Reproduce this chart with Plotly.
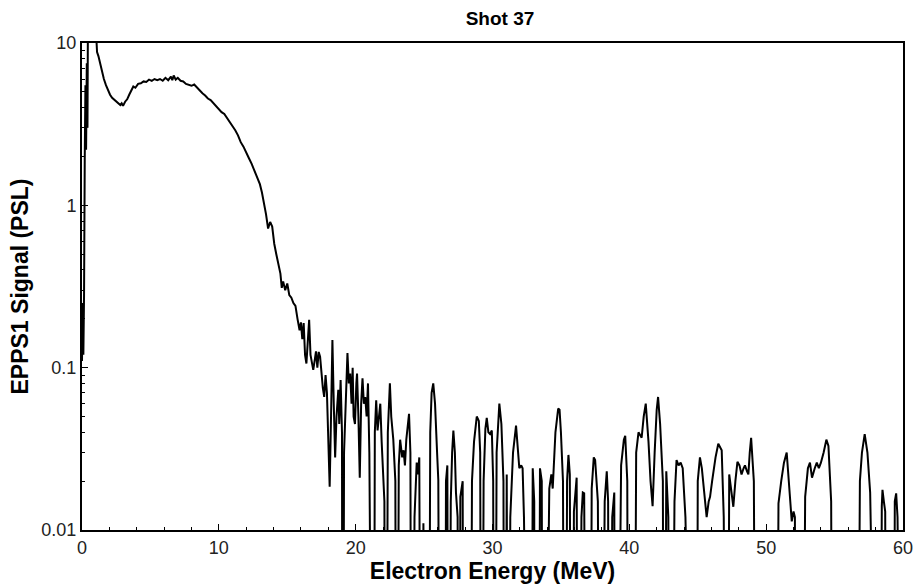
import plotly.graph_objects as go

# Electron energy (MeV) and EPPS1 signal (PSL); 1e-5 marks zero signal (below axis)
energy = [
    0, 0.05, 0.1, 0.15, 0.2, 0.25, 0.3, 0.35, 0.4, 0.45, 0.7, 0.95, 1.02, 1.1, 1.2, 1.3, 1.45, 1.6, 1.75, 1.9,
    2.05, 2.2, 2.4, 2.6, 2.8, 2.9, 3.0, 3.15, 3.3, 3.45, 3.6, 3.75, 3.9, 4.1, 4.3, 4.5, 4.7, 4.9, 5.1, 5.3,
    5.5, 5.7, 5.9, 6.1, 6.3, 6.5, 6.6, 6.7, 6.85, 7.0, 7.2, 7.4, 7.6, 7.8, 8.0, 8.2, 8.4, 8.6, 8.8, 9.0,
    9.2, 9.4, 9.6, 9.8, 10.0, 10.2, 10.4, 10.6, 10.8, 11.0, 11.2, 11.4, 11.6, 11.8, 12.0, 12.2, 12.4, 12.6, 12.8, 13.0,
    13.15, 13.3, 13.45, 13.6, 13.75, 13.9, 14.05, 14.2, 14.35, 14.5, 14.6, 14.7, 14.85, 15.0, 15.15, 15.3, 15.45, 15.6, 15.75, 15.9,
    16.0, 16.1, 16.2, 16.3, 16.4, 16.5, 16.6, 16.7, 16.8, 16.9, 17.0, 17.1, 17.2, 17.3, 17.4, 17.5, 17.6, 17.7, 17.8, 17.9,
    18.0, 18.1, 18.2, 18.3, 18.4, 18.5, 18.6, 18.73, 18.8, 18.9, 19.0, 19.05, 19.15, 19.25, 19.4, 19.5, 19.6, 19.7, 19.78, 19.85,
    19.95, 20.05, 20.1, 20.2, 20.3, 20.4, 20.5, 20.6, 20.7, 20.8, 20.9, 21.0, 21.05, 21.3, 21.4, 21.5, 21.6, 21.7, 21.8, 21.9,
    22.0, 22.1, 22.2, 22.35, 22.5, 22.6, 22.75, 22.9, 23.0, 23.15, 23.25, 23.4, 23.5, 23.6, 23.7, 23.8, 23.9, 24.0, 24.1, 24.3,
    24.46, 24.55, 24.65, 24.8, 24.95, 25.05, 25.3, 25.45, 25.55, 25.67, 25.8, 25.95, 26.04, 26.2, 26.5, 26.6, 26.7, 26.8, 26.95, 27.05,
    27.14, 27.25, 27.33, 27.45, 27.55, 27.65, 27.82, 27.9, 28.35, 28.5, 28.65, 28.85, 29.0, 29.1, 29.2, 29.35, 29.48, 29.58, 29.7, 29.82,
    29.95, 30.05, 30.15, 30.3, 30.5, 30.65, 30.8, 30.9, 31.04, 31.15, 31.3, 31.5, 31.72, 31.85, 31.96, 32.1, 32.2, 32.3, 32.4, 32.8,
    32.94, 33.05, 33.1, 33.35, 33.47, 33.6, 33.7, 34.15, 34.3, 34.4, 34.6, 34.8, 34.9, 35.0, 35.15, 35.3, 35.45, 35.55, 35.65, 35.8,
    35.95, 36.15, 36.3, 36.5, 36.6, 36.7, 36.9, 37.1, 37.25, 37.4, 37.5, 37.7, 37.9, 38.2, 38.35, 38.45, 38.55, 38.75, 38.9, 39.0,
    39.4, 39.6, 39.7, 39.85, 39.95, 40.3, 40.5, 40.67, 40.9, 41.05, 41.2, 41.4, 41.55, 41.7, 41.85, 42.0, 42.1, 42.25, 42.45, 42.55,
    42.7, 42.85, 43.0, 43.3, 43.45, 43.6, 43.75, 43.9, 44.1, 44.3, 44.9, 45.0, 45.16, 45.3, 45.5, 45.65, 45.8, 45.9, 46.05, 46.3,
    46.5, 46.75, 46.9, 47.0, 47.15, 47.3, 47.45, 47.6, 47.75, 47.9, 48.05, 48.2, 48.35, 48.45, 48.6, 48.7, 48.8, 48.9, 49.1, 49.3,
    50.7, 50.9, 51.1, 51.3, 51.5, 51.7, 51.87, 52.0, 52.1, 52.2, 52.6, 52.85, 53.05, 53.2, 53.35, 53.55, 53.7, 53.85, 54.0, 54.2,
    54.4, 54.55, 54.75, 54.9, 56.6, 56.85, 57.0, 57.2, 57.4, 57.6, 57.8, 58.3, 58.45, 58.5, 58.6, 58.7, 58.8, 59.3, 59.4, 59.5,
    59.6, 59.7, 60.0,
]
signal = [
    0.11, 0.25, 0.12, 0.28, 1.9, 5.5, 2.2, 7.5, 3.0, 30, 40, 15, 10, 8.8, 8.3, 7.7, 6.6, 6.0, 5.5, 5.1,
    4.8, 4.6, 4.45, 4.3, 4.15, 4.25, 4.1, 4.35, 4.5, 4.8, 5.1, 5.4, 5.3, 5.6, 5.65, 5.8, 5.75, 5.95, 5.85, 6.0,
    5.9, 6.0, 5.85, 6.1, 5.9, 6.2, 5.9, 6.3, 5.95, 6.1, 5.85, 5.8, 5.6, 5.55, 5.45, 5.55, 5.3, 5.1, 4.9, 4.75,
    4.55, 4.45, 4.25, 4.05, 3.9, 3.75, 3.65, 3.45, 3.3, 3.1, 2.9, 2.7, 2.45, 2.3, 2.1, 1.95, 1.8, 1.62, 1.48, 1.35,
    1.2, 1.05, 0.88, 0.72, 0.79, 0.74, 0.58, 0.5, 0.44, 0.38, 0.31, 0.34, 0.3, 0.33, 0.28, 0.27, 0.25, 0.24, 0.2, 0.17,
    0.19, 0.15, 0.188, 0.12, 0.106, 0.15, 0.197, 0.12, 0.105, 0.097, 0.11, 0.126, 0.1, 0.125, 0.117, 0.09, 0.075, 0.066, 0.09, 0.07,
    0.04, 0.0185, 0.05, 0.148, 0.06, 0.028, 0.05, 0.073, 0.045, 0.084, 0.04, 1e-5, 0.03, 0.06, 0.123, 0.08, 0.092, 0.06, 0.10, 0.05,
    0.045, 0.08, 0.092, 0.05, 0.021, 0.06, 0.086, 0.06, 0.066, 0.05, 0.08, 0.03, 1e-5, 1e-5, 0.04, 0.063, 0.041, 0.05, 0.06, 0.035,
    0.022, 0.015, 1e-5, 0.04, 0.08, 0.05, 0.036, 0.02, 1e-5, 0.025, 0.036, 0.028, 0.031, 0.025, 0.036, 0.045, 0.052, 0.03, 1e-5, 0.012,
    0.026, 0.022, 0.028, 1e-5, 0.011, 1e-5, 1e-5, 0.04, 0.07, 0.08, 0.06, 0.03, 0.0203, 1e-5, 1e-5, 0.02, 0.025, 1e-5, 0.015, 0.03,
    0.041, 0.03, 0.017, 0.012, 1e-5, 0.016, 0.02, 1e-5, 1e-5, 0.02, 0.035, 0.05, 0.047, 0.03, 1e-5, 0.02, 0.042, 0.049, 0.04, 0.039,
    0.041, 0.02, 1e-5, 0.03, 0.06, 0.045, 0.02, 1e-5, 0.022, 1e-5, 0.012, 0.03, 0.044, 0.03, 0.024, 0.025, 0.024, 0.012, 1e-5, 1e-5,
    0.024, 0.015, 1e-5, 1e-5, 0.024, 0.02, 1e-5, 0.018, 0.022, 0.018, 0.04, 0.056, 0.055, 0.04, 0.02, 1e-5, 0.02, 0.029, 0.022, 1e-5,
    0.013, 0.021, 1e-5, 0.012, 0.017, 0.0168, 1e-5, 1e-5, 0.018, 0.028, 0.027, 0.015, 1e-5, 0.015, 0.023, 0.015, 1e-5, 0.012, 0.017, 1e-5,
    0.025, 0.036, 0.038, 0.02, 1e-5, 1e-5, 0.03, 0.04, 0.037, 0.05, 0.06, 0.035, 0.02, 0.014, 0.03, 0.055, 0.066, 0.045, 0.02, 1e-5,
    0.023, 0.012, 1e-5, 0.015, 0.027, 0.025, 0.026, 0.024, 0.012, 1e-5, 1e-5, 0.02, 0.028, 0.024, 0.016, 0.012, 0.015, 0.016, 0.02, 0.028,
    0.034, 0.031, 0.012, 1e-5, 1e-5, 0.022, 0.018, 0.0139, 0.02, 0.0263, 0.025, 0.022, 0.024, 0.025, 0.023, 0.022, 0.03, 0.037, 0.02, 1e-5,
    1e-5, 0.0146, 0.02, 0.026, 0.030, 0.018, 0.0113, 0.013, 0.012, 1e-5, 1e-5, 0.016, 0.024, 0.026, 0.021, 0.024, 0.026, 0.024, 0.026, 0.03,
    0.036, 0.033, 0.015, 1e-5, 1e-5, 0.02, 0.03, 0.039, 0.03, 0.017, 1e-5, 1e-5, 0.014, 0.0177, 0.015, 0.013, 1e-5, 1e-5, 0.015, 0.0168,
    0.012, 1e-5, 1e-5,
]

x_ticks = [0, 10, 20, 30, 40, 50, 60]
y_ticks = [0.01, 0.1, 1, 10]
y_tick_text = ["0.01", "0.1", "1", "10"]
x_minor = [v for v in range(0, 61, 2)]
y_minor = [m * 10.0 ** d for d in (-2, -1, 0) for m in range(2, 10)]

fig = go.Figure()
fig.add_trace(go.Scatter(x=energy, y=signal, mode="lines",
                         line=dict(color="black", width=2), showlegend=False))

font_family = "Liberation Sans, Arial, sans-serif"
fig.update_layout(
    width=914, height=588,
    margin=dict(l=82, r=11, t=43, b=58, autoexpand=False),
    paper_bgcolor="white", plot_bgcolor="white",
    title=dict(text="<b>Shot 37</b>", x=500 / 914, xanchor="center",
               y=1 - 18 / 588, yanchor="middle",
               font=dict(family=font_family, size=19, color="black")),
    font=dict(family=font_family, color="#222"),
)
fig.update_xaxes(
    range=[0, 60], tickvals=x_ticks, ticks="inside", ticklen=6, tickwidth=1, tickcolor="black",
    showline=True, linecolor="black", linewidth=2, mirror=True, showgrid=False, zeroline=False,
    automargin=False, tickfont=dict(size=18, color="#222"),
    minor=dict(tickvals=x_minor, ticks="inside", ticklen=3, tickcolor="black", showgrid=False),
    title=dict(text="<b>Electron Energy (MeV)</b>", font=dict(size=23, color="black"), standoff=4),
)
fig.update_yaxes(
    type="log", range=[-2, 1], tickvals=y_ticks, ticktext=y_tick_text, ticks="inside", ticklen=6,
    tickwidth=1, tickcolor="black",
    showline=True, linecolor="black", linewidth=2, mirror=True, showgrid=False, zeroline=False,
    automargin=False, tickfont=dict(size=18, color="#222"),
    minor=dict(tickvals=y_minor, ticks="inside", ticklen=3, tickcolor="black", showgrid=False),
    title=dict(text="<b>EPPS1 Signal (PSL)</b>", font=dict(size=23, color="black"), standoff=6),
)

fig.write_html("out.html")
